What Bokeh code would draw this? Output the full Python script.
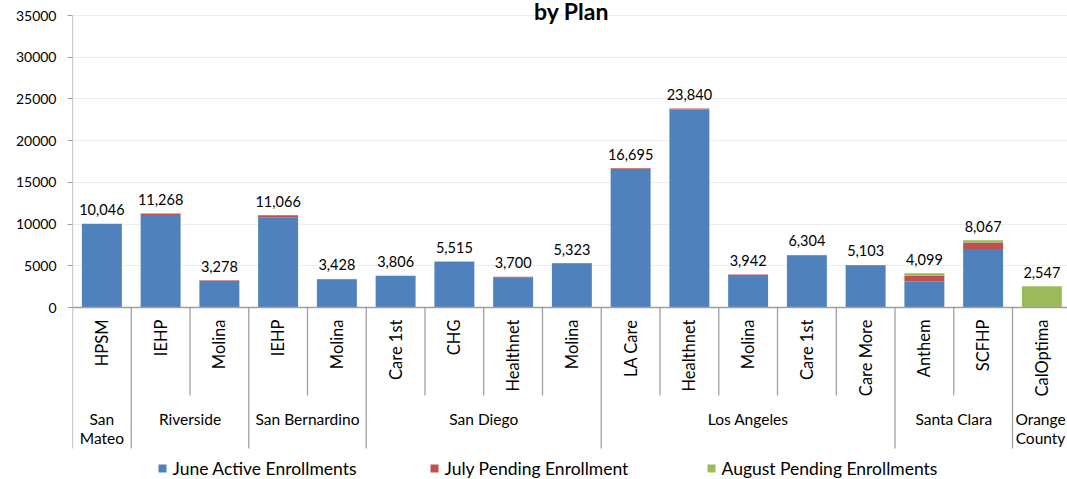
import math
from bokeh.plotting import figure
from bokeh.models import ColumnDataSource, FixedTicker, Range1d
from bokeh.core.properties import value
from bokeh.embed import file_html
from bokeh.resources import INLINE

# ---------------- data ----------------
plans = ["HPSM", "IEHP", "Molina", "IEHP", "Molina", "Care 1st", "CHG", "Healthnet",
         "Molina", "LA Care", "Healthnet", "Molina", "Care 1st", "Care More",
         "Anthem", "SCFHP", "CalOptima"]
counties = ["San\nMateo", "Riverside", "San Bernardino", "San Diego", "Los Angeles",
            "Santa Clara", "Orange\nCounty"]
county_sizes = [1, 2, 2, 4, 5, 2, 1]
june = [10046, 11088, 3198, 10826, 3378, 3776, 5495, 3640, 5303, 16595, 23720,
        3882, 6274, 5073, 3120, 7000, 0]
july = [0, 180, 80, 240, 50, 30, 20, 60, 20, 100, 120, 60, 30, 30, 680, 780, 0]
august = [0, 0, 0, 0, 0, 0, 0, 0, 0, 0, 0, 0, 0, 0, 299, 287, 2547]
totals = [10046, 11268, 3278, 11066, 3428, 3806, 5515, 3700, 5323, 16695, 23840,
          3942, 6304, 5103, 4099, 8067, 2547]
series_names = ["June Active Enrollments", "July Pending Enrollment",
                "August Pending Enrollments"]
series_colors = ["#4F81BD", "#C0504D", "#9BBB59"]
y_ticks = [0, 5000, 10000, 15000, 20000, 25000, 30000, 35000]
title_text = "by Plan"

# ---------------- layout helpers (pixels in figure coordinates) ----------------
FONT = "Lato"
W, H = 1067, 479
CAT_PX = 58.75               # pixels per category (x)
X0 = 72.0                    # x of category 0 left edge (frame left)
Y0 = 307.0                   # y of value 0
TOP = 15.0                   # y of top tick
PX = (Y0 - TOP) / y_ticks[-1]   # pixels per data unit (y)


def ydata(py):
    return (Y0 - py) / PX


def xdata(px):
    return (px - X0) / CAT_PX


AXIS_GRAY = "#A0A0A0"

p = figure(width=W, height=H,
           x_range=Range1d(0, xdata(W)),
           y_range=Range1d(ydata(H), ydata(0)),
           output_backend="svg", toolbar_location=None,
           x_axis_location=None,
           min_border_left=int(X0), min_border_right=0,
           min_border_top=0, min_border_bottom=0)
p.outline_line_color = None
p.background_fill_color = "white"
p.border_fill_color = "white"

# y axis
yax = p.yaxis[0]
yax.ticker = FixedTicker(ticks=y_ticks)
yax.axis_line_color = None
yax.major_tick_line_color = AXIS_GRAY
yax.major_tick_out = 5
yax.major_tick_in = 0
yax.minor_tick_line_color = None
yax.major_label_text_font = FONT
yax.major_label_text_font_size = "14px"
yax.major_label_text_color = "#000000"
yax.major_label_standoff = 11

p.xgrid.visible = False
p.ygrid.ticker = FixedTicker(ticks=y_ticks[1:])
p.ygrid.grid_line_color = "#EDEDED"
p.ygrid.grid_line_width = 1

# bars
xs = [i + 0.5 for i in range(len(plans))]
src = ColumnDataSource(dict(x=xs, june=june, july=july, august=august,
                            total=totals,
                            label=[f"{t:,}" for t in totals],
                            label_y=[t + 14 / PX for t in totals]))
p.vbar_stack(["june", "july", "august"], x="x", width=0.68, source=src,
             color=series_colors, line_color=None)

# data labels
p.text(x="x", y="label_y", text="label", source=src,
       text_font=value(FONT), text_font_size="14.5px", text_color="#000000",
       text_align="center", text_baseline="middle")

# axis lines / separators
county_edges = [0]
for s in county_sizes:
    county_edges.append(county_edges[-1] + s)
inner = [i for i in range(1, len(plans)) if i not in county_edges]

p.segment(x0=[0], y0=[ydata(448)], x1=[0], y1=[y_ticks[-1]],
          line_color=AXIS_GRAY, line_width=1.3)
p.segment(x0=[0], y0=[0], x1=[len(plans)], y1=[0], line_color=AXIS_GRAY, line_width=1.3)
p.segment(x0=county_edges[1:], y0=[0] * (len(county_edges) - 1),
          x1=county_edges[1:], y1=[ydata(448)] * (len(county_edges) - 1),
          line_color=AXIS_GRAY, line_width=1.3)
p.segment(x0=inner, y0=[0] * len(inner), x1=inner, y1=[ydata(395)] * len(inner),
          line_color=AXIS_GRAY, line_width=1.3)

# plan labels (rotated)
p.text(x=xs, y=[ydata(319)] * len(plans), text=plans, angle=math.pi / 2,
       text_font=value(FONT), text_font_size="16.5px", text_color="#000000",
       text_align="right", text_baseline="middle")

# county labels
cx, cy, ct = [], [], []
for k, name in enumerate(counties):
    center = (county_edges[k] + county_edges[k + 1]) / 2
    center = min(center, xdata(W - 27))   # keep the last one inside the canvas
    for j, line in enumerate(name.split("\n")):
        cx.append(center)
        cy.append(ydata(418 + 19.5 * j))
        ct.append(line)
p.text(x=cx, y=cy, text=ct, text_font=value(FONT), text_font_size="15.5px",
       text_color="#000000", text_align="center", text_baseline="middle")

# legend
leg_sq_px = [162, 434, 711]
LEG_Y = ydata(468)
p.scatter(x=[xdata(v) for v in leg_sq_px], y=[LEG_Y] * 3, marker="square", size=8,
          color=series_colors, line_color=None)
p.text(x=[xdata(v + 10) for v in leg_sq_px], y=[LEG_Y] * 3, text=series_names,
       text_font=value(FONT), text_font_size="17.5px", text_color="#000000",
       text_align="left", text_baseline="middle")

# title, kept just inside the top edge
p.text(x=[xdata(571)], y=[ydata(10.5)], text=[title_text],
       text_font=value(FONT), text_font_style="bold", text_font_size="23px",
       text_color="#000000", text_align="center", text_baseline="alphabetic")

open("out.html", "w").write(file_html(p, INLINE))
